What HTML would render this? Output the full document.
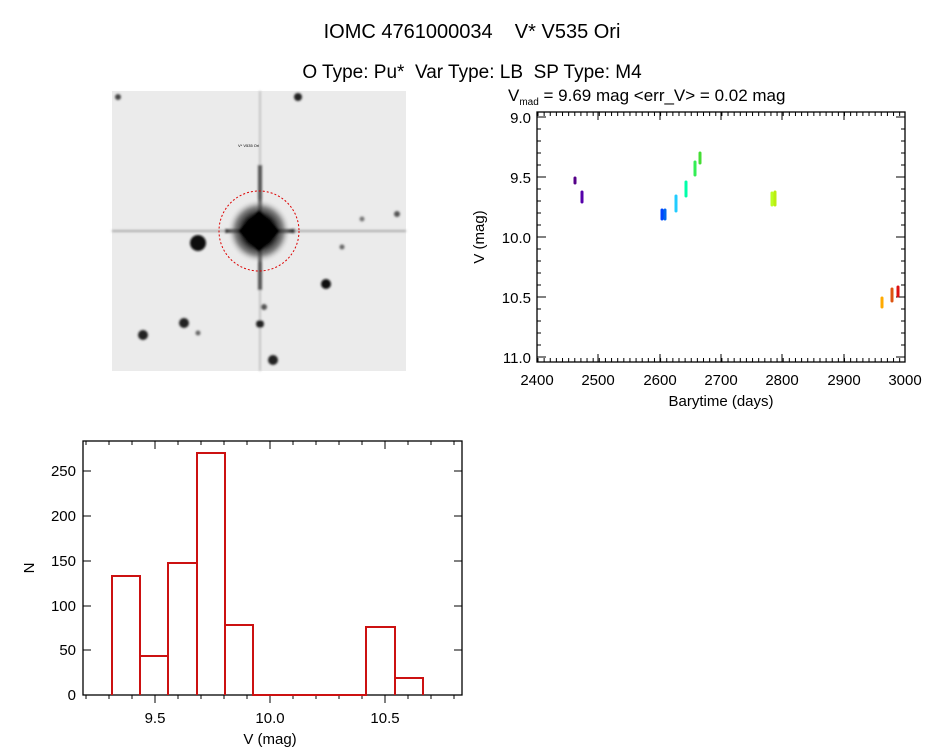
<!DOCTYPE html>
<html><head><meta charset="utf-8"><style>
html,body{margin:0;padding:0;background:#fff;width:944px;height:747px;overflow:hidden}
text{font-family:"Liberation Sans",sans-serif;fill:#000;white-space:pre}
</style></head><body>
<svg width="944" height="747" viewBox="0 0 944 747" xmlns="http://www.w3.org/2000/svg">
<defs>
<radialGradient id="g" cx="0.5" cy="0.5" r="0.5">
<stop offset="0" stop-color="#000"/><stop offset="0.45" stop-color="#000"/><stop offset="0.75" stop-color="#555" stop-opacity="0.7"/><stop offset="1" stop-color="#ebebeb" stop-opacity="0"/>
</radialGradient>
<filter id="b"><feGaussianBlur stdDeviation="1"/></filter>
</defs>
<text x="472" y="38" font-size="20" text-anchor="middle">IOMC 4761000034    V* V535 Ori</text>
<text x="472" y="78" font-size="19" text-anchor="middle">O Type: Pu*  Var Type: LB  SP Type: M4</text>

<!-- image -->
<rect x="112" y="91" width="294" height="280" fill="#ebebeb"/>
<g filter="url(#b)">
<line x1="112" y1="231" x2="406" y2="231" stroke="#aaa" stroke-width="2"/>
<line x1="260" y1="91" x2="260" y2="371" stroke="#c4c4c4" stroke-width="2"/>
<line x1="225" y1="231" x2="295" y2="231" stroke="#333" stroke-width="4"/>
<line x1="260" y1="165" x2="260" y2="290" stroke="#555" stroke-width="4"/>
<circle cx="259" cy="231" r="32" fill="url(#g)"/>
<rect x="244" y="216" width="30" height="30" transform="rotate(45 259 231)" fill="#000"/>
<circle cx="198" cy="243" r="8" fill="#111"/>
<circle cx="326" cy="284" r="5" fill="#111"/>
<circle cx="298" cy="97" r="4" fill="#222"/>
<circle cx="184" cy="323" r="5" fill="#222"/>
<circle cx="143" cy="335" r="5" fill="#222"/>
<circle cx="260" cy="324" r="4" fill="#222"/>
<circle cx="273" cy="360" r="5" fill="#222"/>
<circle cx="264" cy="307" r="3" fill="#555"/>
<circle cx="397" cy="214" r="3" fill="#555"/>
<circle cx="342" cy="247" r="2.5" fill="#666"/>
<circle cx="362" cy="219" r="2.5" fill="#777"/>
<circle cx="198" cy="333" r="2.5" fill="#666"/>
<circle cx="118" cy="97" r="3" fill="#444"/>
</g>
<circle cx="259" cy="231" r="40" fill="none" stroke="#d00" stroke-width="1" stroke-dasharray="2,2"/>
<text x="238" y="147" font-size="4" fill="#d00">V* V535 Ori</text>

<!-- light curve -->
<rect x="537" y="112" width="368" height="250" fill="none" stroke="#000" stroke-width="1.3"/>
<g stroke="#000" stroke-width="1">
<path d="M537 117h9M905 117h-9M537 177h9M905 177h-9M537 237h9M905 237h-9M537 297h9M905 297h-9M537 357h9M905 357h-9"/>
<path d="M537 129h4M537 141h4M537 153h4M537 165h4M537 189h4M537 201h4M537 213h4M537 225h4M537 249h4M537 261h4M537 273h4M537 285h4M537 309h4M537 321h4M537 333h4M537 345h4M905 129h-4M905 141h-4M905 153h-4M905 165h-4M905 189h-4M905 201h-4M905 213h-4M905 225h-4M905 249h-4M905 261h-4M905 273h-4M905 285h-4M905 309h-4M905 321h-4M905 333h-4M905 345h-4"/>
<path d="M598 362v-8M660 362v-8M721 362v-8M782 362v-8M844 362v-8M598 112v8M660 112v8M721 112v8M782 112v8M844 112v8"/>
</g>
<g stroke="#000" stroke-width="1" stroke-dasharray="1,5.13">
<path d="M537 362V358M905 362V358"/>
</g>
<g stroke="#000" stroke-width="4" stroke-dasharray="1,5.13" fill="none">
<path d="M537.5 360H905"/>
<path d="M537.5 114H905"/>
</g>
<g font-size="15">
<text x="531" y="123" text-anchor="end">9.0</text>
<text x="531" y="183" text-anchor="end">9.5</text>
<text x="531" y="243" text-anchor="end">10.0</text>
<text x="531" y="303" text-anchor="end">10.5</text>
<text x="531" y="363" text-anchor="end">11.0</text>
<g text-anchor="middle">
<text x="537" y="385">2400</text><text x="598" y="385">2500</text><text x="660" y="385">2600</text>
<text x="721" y="385">2700</text><text x="782" y="385">2800</text><text x="844" y="385">2900</text><text x="905" y="385">3000</text>
</g>
<text x="721" y="406" text-anchor="middle">Barytime (days)</text>
<text transform="translate(484 237) rotate(-90)" text-anchor="middle">V (mag)</text>
<text x="508" y="101" font-size="17">V<tspan font-size="10" dy="4">mad</tspan><tspan dy="-4"> = 9.69 mag &lt;err_V&gt; = 0.02 mag</tspan></text>
</g>
<g stroke-width="3" stroke-linecap="round">
<line x1="575" y1="178" x2="575" y2="183" stroke="#550088"/>
<line x1="582" y1="192" x2="582" y2="202" stroke="#5500aa"/>
<line x1="662" y1="210" x2="662" y2="219" stroke="#0044ff"/>
<line x1="665" y1="210" x2="665" y2="219" stroke="#0066ee"/>
<line x1="676" y1="196" x2="676" y2="211" stroke="#22ccff"/>
<line x1="686" y1="182" x2="686" y2="196" stroke="#00ffaa"/>
<line x1="695" y1="162" x2="695" y2="175" stroke="#33ee55"/>
<line x1="700" y1="153" x2="700" y2="163" stroke="#44dd33"/>
<line x1="772" y1="193" x2="772" y2="205" stroke="#bbff22"/>
<line x1="775" y1="192" x2="775" y2="205" stroke="#bbee11"/>
<line x1="882" y1="298" x2="882" y2="307" stroke="#ffaa00"/>
<line x1="892" y1="289" x2="892" y2="301" stroke="#dd5511"/>
<line x1="898" y1="287" x2="898" y2="296" stroke="#dd1111"/>
</g>

<!-- histogram -->
<rect x="83" y="441" width="379" height="254" fill="none" stroke="#000" stroke-width="1.3"/>
<g stroke="#000" stroke-width="1">
<path d="M83 695h8M462 695h-8M83 650h8M462 650h-8M83 606h8M462 606h-8M83 561h8M462 561h-8M83 516h8M462 516h-8M83 471h8M462 471h-8"/>
<path d="M155 695v8M270 695v8M385 695v8M155 441v8M270 441v8M385 441v8"/>
<path d="M86 695v4M109 695v4M132 695v4M178 695v4M201 695v4M224 695v4M247 695v4M293 695v4M316 695v4M339 695v4M362 695v4M408 695v4M431 695v4M454 695v4M86 441v4M109 441v4M132 441v4M178 441v4M201 441v4M224 441v4M247 441v4M293 441v4M316 441v4M339 441v4M362 441v4M408 441v4M431 441v4M454 441v4"/>
</g>
<path d="M112 695V576H140V656H168V563H197V453H225V625H253V695H366V627H395V678H423V695M140 695V576M168 695V656M197 695V563M225 695V453M253 695V625M395 695V627M366 695H253" fill="none" stroke="#cc1111" stroke-width="2"/>
<g font-size="15">
<text x="76" y="700" text-anchor="end">0</text>
<text x="76" y="655" text-anchor="end">50</text>
<text x="76" y="611" text-anchor="end">100</text>
<text x="76" y="566" text-anchor="end">150</text>
<text x="76" y="521" text-anchor="end">200</text>
<text x="76" y="476" text-anchor="end">250</text>
<text x="155" y="723" text-anchor="middle">9.5</text>
<text x="270" y="723" text-anchor="middle">10.0</text>
<text x="385" y="723" text-anchor="middle">10.5</text>
<text x="270" y="744" text-anchor="middle">V (mag)</text>
<text transform="translate(34 568) rotate(-90)" text-anchor="middle">N</text>
</g>
</svg>
</body></html>
